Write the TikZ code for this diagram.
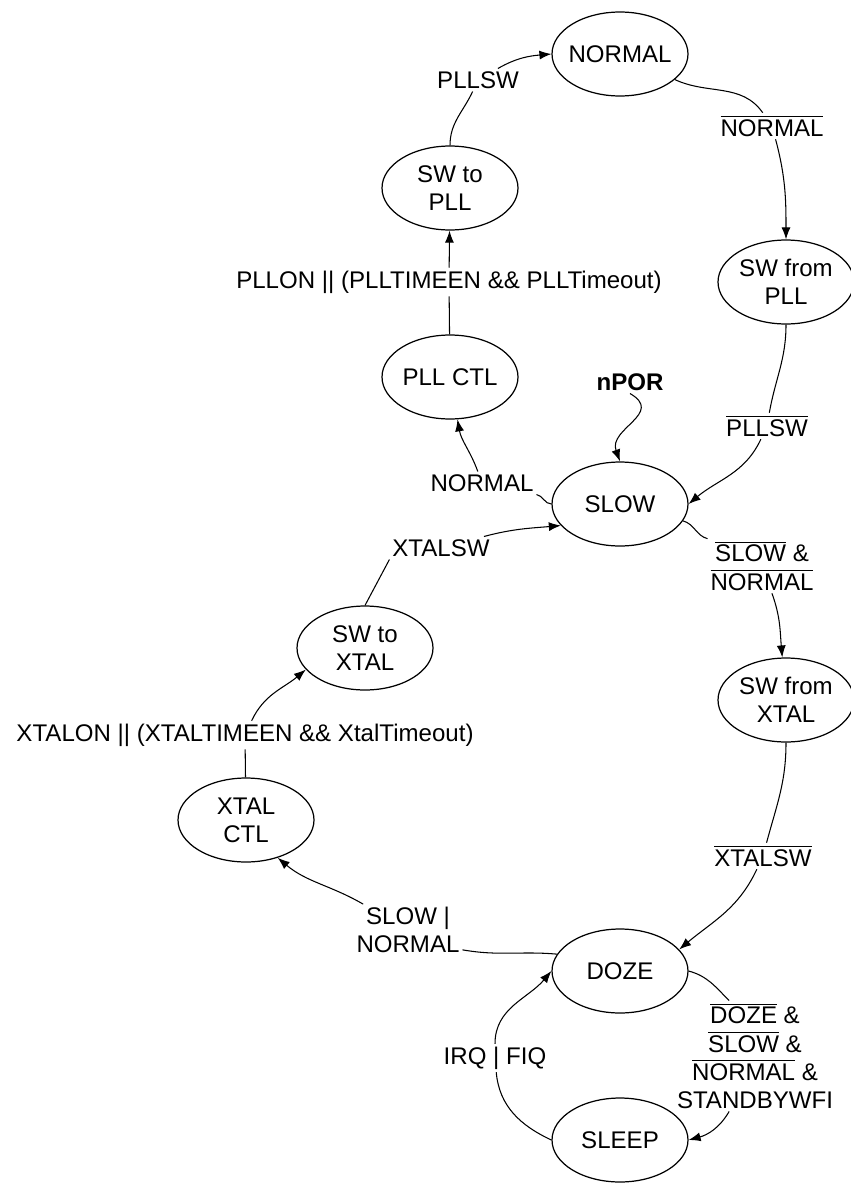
\documentclass[tikz,border=0pt]{standalone}
\usepackage{fontspec}
\setmainfont{Liberation Sans}
\usetikzlibrary{arrows.meta}
\usetikzlibrary{shapes.geometric}
\newcommand{\nonsig}[1]{$\overline{\mbox{#1}}$}

\begin{document}
\begin{tikzpicture}[x=0.02cm,y=0.02cm,
	font=\fontsize{13.7}{16}\selectfont,
	>={Latex[length=2.4mm,width=1.8mm]},
	etat/.style={draw,ellipse,line width=0.7pt,minimum width=2.72cm,minimum height=1.68cm,inner sep=-5pt,align=center},
	cond/.style={fill=white,inner sep=1.5pt,align=center},
	tr/.style={line width=0.6pt}]
		\useasboundingbox (0,0) rectangle (851,-1183);
		% Etats
		\node[etat] (normal) at (620,-54) {NORMAL};
		\node[etat] (swpll) at (450,-188) {SW to\\PLL};
		\node[etat] (pllctl) at (450,-377) {PLL CTL};
		\node[etat] (swfpll) at (786,-282) {SW from\\PLL};
		\node[etat] (slow) at (620,-504) {SLOW};
		\node[etat] (swxtal) at (365,-648) {SW to\\XTAL};
		\node[etat] (swfxtal) at (786,-700) {SW from\\XTAL};
		\node[etat] (xtalctl) at (246,-820) {XTAL\\CTL};
		\node[etat] (doze) at (620,-971) {DOZE};
		\node[etat] (sleep) at (620,-1140) {SLEEP};
		% Conditions
		\node[cond] (lpllsw) at (478,-80) {PLLSW};
		\node[cond] (lnormalb) at (772,-126) {\nonsig{NORMAL}};
		\node[cond] (lpllon) at (449,-282) {PLLON || (PLLTIMEEN \&\& PLLTimeout)};
		\node[cond] (lpllswb) at (767,-426) {\nonsig{PLLSW}};
		\node[cond] (lnpor) at (630,-382) {\textbf{nPOR}};
		\node[cond] (lnormal) at (482,-483) {NORMAL};
		\node[cond] (lxtalsw) at (441,-548) {XTALSW};
		\node[cond] (lslowand) at (762,-566) {\nonsig{SLOW} \&\\\nonsig{NORMAL}};
		\node[cond] (lxtalon) at (245,-735) {XTALON || (XTALTIMEEN \&\& XtalTimeout)};
		\node[cond] (lxtalswb) at (763,-856) {\nonsig{XTALSW}};
		\node[cond] (lslowor) at (408,-930) {SLOW |\\NORMAL};
		\node[cond] (ldozeand) at (755,-1056) {\nonsig{DOZE} \&\\\nonsig{SLOW} \&\\\nonsig{NORMAL} \&\\STANDBYWFI};
		\node[cond] (lirq) at (495,-1058) {IRQ | FIQ};
		% Boucle PLL
		\draw[tr] (swpll) to[out=90,in=-115] (lpllsw);
		\draw[tr,->] (lpllsw) to[out=30,in=185] (normal.west);
		\draw[tr] (normal) to[out=-25,in=125] (lnormalb);
		\draw[tr,->] (lnormalb) to[out=-75,in=90] (swfpll);
		\draw[tr] (swfpll) to[out=-90,in=80] (lpllswb);
		\draw[tr,->] (lpllswb) to[out=-115,in=40] (slow.east);
		\draw[tr] (pllctl) -- (lpllon);
		\draw[tr,->] (lpllon) -- (swpll);
		\draw[tr] (slow.west) to[out=180,in=-10] (lnormal.south east);
		\draw[tr,->] (lnormal) to[out=110,in=-80] (pllctl);
		% Reset
		\draw[tr,->] (lnpor.south) .. controls +(-30:40) and +(110:35) .. (slow.north);
		% Boucle XTAL
		\draw[tr] (slow.-15) to[out=-15,in=165] (lslowand.north west);
		\draw[tr,->] (lslowand) to[out=-70,in=95] (swfxtal);
		\draw[tr] (swfxtal) to[out=-90,in=75] (lxtalswb);
		\draw[tr,->] (lxtalswb) to[out=-115,in=40] (doze.20);
		\draw[tr] (doze.165) to[out=175,in=-10] (lslowor.-20);
		\draw[tr,->] (lslowor) to[out=150,in=-40] (xtalctl.-50);
		\draw[tr] (xtalctl) -- (lxtalon);
		\draw[tr,->] (lxtalon) to[out=65,in=220] (swxtal.200);
		\draw[tr] (swxtal.north) -- (lxtalsw.south west);
		\draw[tr,->] (lxtalsw) to[out=15,in=185] (slow.200);
		% Sommeil
		\draw[tr] (doze.east) to[out=-15,in=135] (ldozeand.115);
		\draw[tr,->] (ldozeand.-115) to[out=-120,in=15] (sleep.east);
		\draw[tr] (sleep.west) to[out=155,in=-85] (lirq);
		\draw[tr,->] (lirq) to[out=90,in=230] (doze.west);
\end{tikzpicture}
\end{document}
